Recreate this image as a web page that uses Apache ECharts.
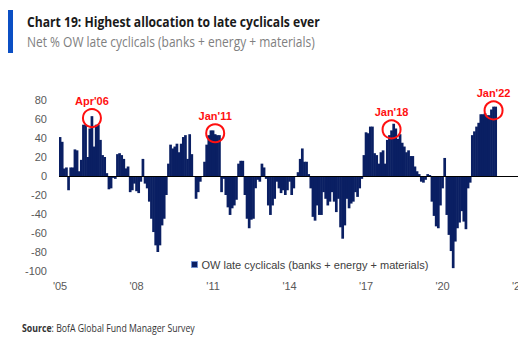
<!DOCTYPE html>
<html>
<head>
<meta charset="utf-8">
<script src="https://cdn.jsdelivr.net/npm/echarts@6/dist/echarts.min.js"></script>
<style>
html,body{margin:0;padding:0;background:#fff;}
#c{width:518px;height:339px;}
</style>
</head>
<body>
<div id="c"></div>
<script>
// ---- data ----
var startYear = 2005;
var monthsOnAxis = 222; // Jan 2005 .. Jun 2023
var values = [
  41,36,8,9,-15,9,9,28,27,5,
  17,54,54,20,50,63,31,54,54,38,
  22,20,3,-14,-13,-2,-3,23,24,22,
  18,8,10,-17,-15,-8,-16,-18,-6,18,
  -8,-13,-27,-45,-59,-73,-80,-73,-52,-45,
  -20,13,33,29,31,34,25,34,41,43,
  18,44,23,0,-24,-17,-6,-1,15,33,
  43,48,48,44,43,43,-17,-3,-20,-33,
  -41,-34,-31,-25,13,16,16,-20,-45,-55,
  -46,-45,-13,-4,-6,13,9,-3,-31,-41,
  -31,-24,-6,-13,-18,-15,-20,-15,-6,-20,
  -13,-1,4,18,29,15,15,2,-13,-43,
  -47,-31,-41,-41,-17,-24,-31,-27,-17,-27,
  -38,-24,-54,-66,-52,-24,-34,-29,-27,-17,
  -22,-13,-3,22,46,45,52,52,24,22,
  13,25,27,13,38,43,48,55,50,39,
  44,35,31,25,27,21,21,10,5,2,
  -6,-7,-4,2,1,-27,-42,-53,-55,-31,
  -13,19,-41,-62,-79,-97,-69,-55,-49,-37,
  -48,-56,-13,-7,43,47,52,56,65,65,
  66,64,64,70,73,73
];
var tickLabels = ["'05","'08","'11","'14","'17","'20","'23"];
var yTicks = [-100,-80,-60,-40,-20,0,20,40,60,80];
var annotationLabels = ["Apr'06","Jan'11","Jan'18","Jan'22"];
var annotationIndex = [15,73,156,204];
var annotationValue = [61,45,49,69];
var seriesName = "OW late cyclicals (banks + energy + materials)";

// ---- build ----
var categories = [];
for (var i = 0; i < monthsOnAxis; i++) {
  var y = startYear + Math.floor(i / 12), m = (i % 12) + 1;
  categories.push(y + '-' + (m < 10 ? '0' + m : m));
}
var barData = categories.map(function (c, i) { return i < values.length ? values[i] : null; });

var mctx = document.createElement('canvas').getContext('2d');
function fit(text, font, target) { mctx.font = font; return target / mctx.measureText(text).width; }

var titleText = 'Chart 19: Highest allocation to late cyclicals ever';
var subText = 'Net % OW late cyclicals (banks + energy + materials)';
var titleFont = 'bold 14px "Open Sans"';
var subFont = '14px "Open Sans"';
var srcFont = '10px "Open Sans"';
var srcBold = 'bold 10px "Open Sans"';
mctx.font = srcBold; var wB = mctx.measureText('Source').width;
mctx.font = srcFont; var wR = mctx.measureText(': BofA Global Fund Manager Survey').width;
var srcScale = 173 / (wB + wR);

var barColor = '#0a1f63';
var chart = echarts.init(document.getElementById('c'), null, {renderer: 'svg'});
chart.setOption({
  animation: false,
  backgroundColor: '#ffffff',
  grid: {left: 59, top: 100, width: monthsOnAxis * 2.125, height: 171, containLabel: false, outerBoundsMode: 'none'},
  legend: {
    data: [seriesName], left: 186, top: 254, icon: 'rect', itemWidth: 6, itemHeight: 6, itemGap: 5,
    itemStyle: {borderColor: '#6f8fcf', borderWidth: 1},
    textStyle: {fontFamily: '"Liberation Sans", Arial', fontSize: 11, color: '#404040', padding: [0,0,0,-1]}
  },
  xAxis: {
    type: 'category', data: categories, boundaryGap: true,
    axisLine: {show: false}, axisTick: {show: false}, splitLine: {show: false},
    axisLabel: {
      interval: function (idx) { return idx % 36 === 0; },
      formatter: function (v, idx) { return tickLabels[Math.round(idx / 36)]; },
      fontFamily: '"Liberation Sans", Arial', fontSize: 11, color: '#595959', margin: 9
    }
  },
  yAxis: {
    type: 'value', min: yTicks[0], max: yTicks[yTicks.length - 1], interval: 20,
    axisLine: {show: false}, axisTick: {show: false}, splitLine: {show: false},
    axisLabel: {fontFamily: '"Liberation Sans", Arial', fontSize: 11, color: '#595959', margin: 12}
  },
  series: [{
    name: seriesName, type: 'bar', data: barData, barWidth: 2.7, barGap: '-100%',
    itemStyle: {color: barColor},
    markLine: {
      silent: true, symbol: 'none', label: {show: false},
      lineStyle: {color: '#000000', width: 1, type: 'solid'},
      data: [{yAxis: 0}]
    },
    markPoint: {
      silent: true, symbol: 'circle', symbolSize: 18,
      itemStyle: {color: 'rgba(0,0,0,0)', borderColor: '#ff1010', borderWidth: 2},
      label: {show: true, position: 'top', distance: 2, color: '#ff1010', fontWeight: 'bold',
              fontFamily: '"Liberation Sans", Arial', fontSize: 11,
              formatter: function (p) { return p.name; }},
      data: annotationLabels.map(function (t, k) {
        return {name: t, coord: [categories[annotationIndex[k]], annotationValue[k]]};
      })
    }
  }],
  graphic: [
    {type: 'rect', left: 8, top: 10, shape: {width: 5, height: 43}, style: {fill: '#0b4fc4'}},
    {type: 'text', x: 27, y: 22, scaleX: fit(titleText, titleFont, 293),
     style: {text: titleText, font: titleFont, fill: '#1a1a1a', verticalAlign: 'middle'}},
    {type: 'text', x: 27, y: 42, scaleX: fit(subText, subFont, 288),
     style: {text: subText, font: subFont, fill: '#808080', verticalAlign: 'middle'}},
    {type: 'text', x: 22, y: 328, scaleX: srcScale,
     style: {text: '{b|Source}: BofA Global Fund Manager Survey', font: srcFont, fill: '#333333', verticalAlign: 'middle',
             rich: {b: {fontWeight: 'bold', fontFamily: 'Open Sans', fontSize: 10, fill: '#333333'}}}}
  ]
});
</script>
</body>
</html>
